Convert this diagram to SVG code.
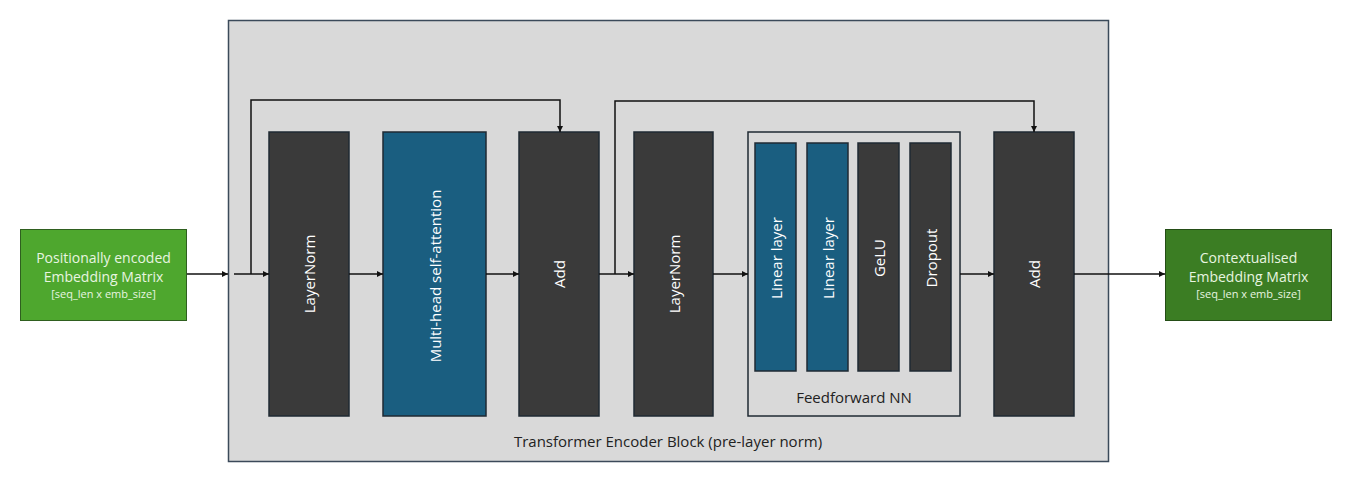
<svg xmlns="http://www.w3.org/2000/svg" width="1357" height="482" viewBox="0 0 1357 482">
<defs>
<marker id="ah" viewBox="0 0 8 8" refX="8" refY="4" markerWidth="6" markerHeight="6" markerUnits="userSpaceOnUse" orient="auto">
<path d="M0,0 L8,4 L0,8 z" fill="#111"/>
</marker>
<style>
.blk{fill:#3a3a3a;stroke:#1f2a33;stroke-width:1.5}
.blu{fill:#1a5e80;stroke:#1f2a33;stroke-width:1.5}
.lbl{fill:#ffffff;font-family:"Open Sans","Liberation Sans",sans-serif;font-size:15px;text-anchor:middle;dominant-baseline:central}
.dk{fill:#222;font-family:"Open Sans","Liberation Sans",sans-serif;font-size:15px;text-anchor:middle;dominant-baseline:central}
.io{fill:#e8f5e0;font-family:"Open Sans","Liberation Sans",sans-serif;text-anchor:middle;dominant-baseline:central}
.ln{fill:none;stroke:#111;stroke-width:1.5}
</style>
</defs>
<rect width="1357" height="482" fill="#ffffff"/>
<g id="encoder-block">
<rect x="228.5" y="20.5" width="880" height="441" fill="#d9d9d9" stroke="#3b4a5a" stroke-width="1.5"/>
<text class="dk" x="668" y="441">Transformer Encoder Block (pre-layer norm)</text>
</g>
<g id="input">
<rect x="20.5" y="229.5" width="166" height="91" fill="#4ea72e" stroke="#2f5f1f" stroke-width="1"/>
<text class="io" x="103.5" y="257" font-size="14">Positionally encoded</text>
<text class="io" x="103.5" y="276" font-size="14">Embedding Matrix</text>
<text class="io" x="103.5" y="293" font-size="11">[seq_len x emb_size]</text>
</g>
<g id="output">
<rect x="1165.5" y="229.5" width="166" height="91" fill="#3b7d23" stroke="#244d16" stroke-width="1"/>
<text class="io" x="1248.5" y="257" font-size="14">Contextualised</text>
<text class="io" x="1248.5" y="276" font-size="14">Embedding Matrix</text>
<text class="io" x="1248.5" y="293" font-size="11">[seq_len x emb_size]</text>
</g>
<g id="layernorm1">
<rect class="blk" x="269" y="132" width="80" height="284"/>
<text class="lbl" transform="translate(309,274) rotate(-90)">LayerNorm</text>
</g>
<g id="mhsa">
<rect class="blu" x="383" y="132" width="103" height="284"/>
<text class="lbl" transform="translate(434.5,276) rotate(-90)">Multi-head self-attention</text>
</g>
<g id="add1">
<rect class="blk" x="519" y="132" width="80" height="284"/>
<text class="lbl" transform="translate(559,274) rotate(-90)">Add</text>
</g>
<g id="layernorm2">
<rect class="blk" x="634" y="132" width="79" height="284"/>
<text class="lbl" transform="translate(673.5,274) rotate(-90)">LayerNorm</text>
</g>
<g id="ffnn">
<rect x="748" y="132" width="212" height="284" fill="#d9d9d9" stroke="#1f2a33" stroke-width="1.5"/>
<text class="dk" x="854" y="397">Feedforward NN</text>
</g>
<g id="linear1">
<rect class="blu" x="755" y="143" width="41" height="228"/>
<text class="lbl" transform="translate(775.5,258) rotate(-90)">Linear layer</text>
</g>
<g id="linear2">
<rect class="blu" x="807" y="143" width="41" height="228"/>
<text class="lbl" transform="translate(827.5,258) rotate(-90)">Linear layer</text>
</g>
<g id="gelu">
<rect class="blk" x="858" y="143" width="41" height="228"/>
<text class="lbl" transform="translate(878.5,258) rotate(-90)">GeLU</text>
</g>
<g id="dropout">
<rect class="blk" x="910" y="143" width="41" height="228"/>
<text class="lbl" transform="translate(930.5,258) rotate(-90)">Dropout</text>
</g>
<g id="add2">
<rect class="blk" x="994" y="132" width="80" height="284"/>
<text class="lbl" transform="translate(1034,274) rotate(-90)">Add</text>
</g>
<g id="connectors">
<line class="ln" x1="187" y1="274" x2="228" y2="274" marker-end="url(#ah)"/>
<line class="ln" x1="234" y1="274" x2="269" y2="274" marker-end="url(#ah)"/>
<polyline class="ln" points="251,274 251,100 560,100 560,132" marker-end="url(#ah)"/>
<line class="ln" x1="349" y1="274" x2="383" y2="274" marker-end="url(#ah)"/>
<line class="ln" x1="486" y1="274" x2="519" y2="274" marker-end="url(#ah)"/>
<line class="ln" x1="599" y1="274" x2="634" y2="274" marker-end="url(#ah)"/>
<polyline class="ln" points="615,274 615,101 1034,101 1034,132" marker-end="url(#ah)"/>
<line class="ln" x1="713" y1="274" x2="748" y2="274" marker-end="url(#ah)"/>
<line class="ln" x1="960" y1="274" x2="994" y2="274" marker-end="url(#ah)"/>
<line class="ln" x1="1074" y1="274" x2="1165" y2="274" marker-end="url(#ah)"/>
</g>
</svg>
